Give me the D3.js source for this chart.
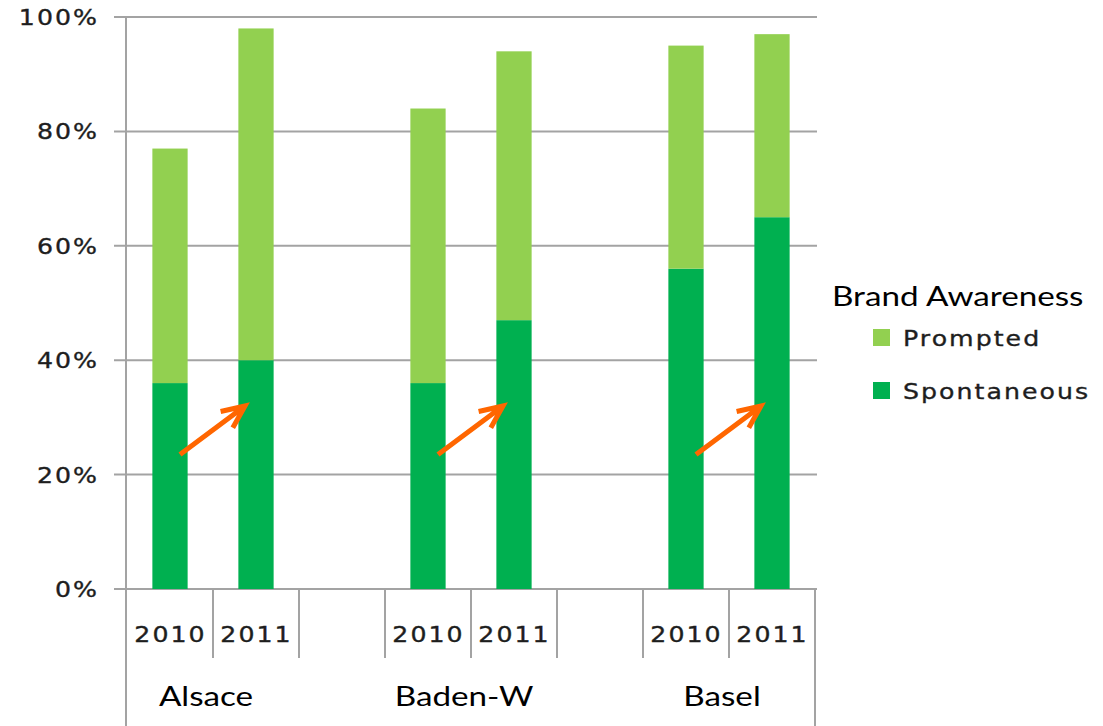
<!DOCTYPE html>
<html>
<head>
<meta charset="utf-8">
<script src="https://cdn.jsdelivr.net/npm/d3@7"></script>
<style>
  html, body { margin: 0; padding: 0; background: #fff; }
  svg { display: block; }
  .tick-label, .year-label, .legend-label {
    font-family: "DejaVu Sans", Verdana, sans-serif; font-size: 21px; letter-spacing: 1.7px;
    fill: #1e1e1e; stroke: #1e1e1e; stroke-width: 0.35px;
  }
  .region-label, .legend-title { font-family: Lato, "Open Sans", sans-serif; font-size: 27px; fill: #000; }
</style>
</head>
<body>
<svg id="chart" width="1103" height="726"></svg>
<script>
// Brand awareness by region and year (percent of respondents)
const regions = ["Alsace", "Baden-W", "Basel"];
const years = ["2010", "2011"];
const spontaneous = [36, 40, 36, 47, 56, 65];   // per region, per year
const prompted = [41, 58, 48, 47, 39, 32];       // stacked on top of spontaneous
const yTicks = [0, 20, 40, 60, 80, 100];
const seriesNames = ["Prompted", "Spontaneous"];
const seriesColors = ["#92D050", "#00B050"];
const legendTitle = "Brand Awareness";
// arrows: start / end height (percent) showing the change in spontaneous awareness
const arrowFrom = [23.5, 23.5, 23.5];
const arrowTo = [32, 32, 32];

const svg = d3.select("#chart");
const wide = 1.23;   // horizontal stretch for the titles
const wideS = 1.2;   // horizontal stretch for axis / legend labels

// one slot per bar, with an empty slot between regions
const slots = [];
regions.forEach((r, i) => {
  years.forEach(y => slots.push(r + "|" + y));
  if (i < regions.length - 1) slots.push(r + "|gap");
});

const plotLeft = 126, plotRight = 815, plotTop = 17, plotBase = 589;
const x = d3.scaleBand().domain(slots).range([plotLeft + 1, plotRight]).paddingInner(0).paddingOuter(0);
const y = d3.scaleLinear().domain([0, 100]).range([plotBase, plotTop]);
const bw = x.bandwidth();
const barW = bw * 0.41;

// gridlines
svg.append("g").selectAll("line").data(yTicks).join("line")
  .attr("x1", plotLeft - 12).attr("x2", plotRight + 2)
  .attr("y1", d => y(d)).attr("y2", d => y(d))
  .attr("stroke", "#a3a3a3").attr("stroke-width", 2);

// y axis labels
const yAxis = svg.append("g").attr("transform", `translate(${plotLeft},0)`)
  .call(d3.axisLeft(y).tickValues(yTicks).tickSize(0).tickPadding(0).tickFormat(d => d + "%"));
yAxis.select(".domain").remove();
yAxis.attr("font-family", null).attr("font-size", null);
yAxis.selectAll("text").attr("class", "tick-label")
  .attr("x", -27 / wideS).attr("dy", "0.36em")
  .attr("transform", `scale(${wideS},1)`);

// stacked bars
const rows = slots.filter(s => !s.endsWith("|gap")).map((s, i) => ({
  key: s, Spontaneous: spontaneous[i], Prompted: prompted[i]
}));
const stack = d3.stack().keys(["Spontaneous", "Prompted"]);
const layers = stack(rows);
svg.append("g").selectAll("g").data(layers).join("g")
  .attr("fill", d => seriesColors[seriesNames.indexOf(d.key)])
  .selectAll("rect").data(d => d).join("rect")
  .attr("x", d => x(d.data.key) + (bw - barW) / 2)
  .attr("width", barW)
  .attr("y", d => y(d[1]))
  .attr("height", d => y(d[0]) - y(d[1]));

// category axis frame
const frame = svg.append("g").attr("stroke", "#a3a3a3").attr("stroke-width", 2);
frame.append("line").attr("x1", plotLeft).attr("x2", plotLeft).attr("y1", plotTop).attr("y2", 726);
frame.append("line").attr("x1", plotRight).attr("x2", plotRight).attr("y1", plotBase).attr("y2", 726);
frame.selectAll("line.sep").data(slots.slice(1)).join("line").attr("class", "sep")
  .attr("x1", d => x(d)).attr("x2", d => x(d))
  .attr("y1", plotBase).attr("y2", plotBase + 69);

// year labels
svg.append("g").selectAll("text").data(rows).join("text")
  .attr("class", "year-label")
  .attr("transform", d => `translate(${x(d.key) + bw / 2 + 0.5},642) scale(${wideS},1)`)
  .attr("text-anchor", "middle")
  .text(d => d.key.split("|")[1]);

// region labels
svg.append("g").selectAll("text").data(regions).join("text")
  .attr("class", "region-label")
  .attr("transform", r => `translate(${x(r + "|" + years[0]) + bw - 7},706) scale(${wide},1)`)
  .attr("text-anchor", "middle")
  .text(r => r);

// arrows showing the rise in spontaneous awareness
const arrowColor = "#FF6600";
regions.forEach((r, i) => {
  const x0 = x(r + "|" + years[0]) + bw / 2 + 10;
  const y0 = y(arrowFrom[i]);
  const x1 = x(r + "|" + years[1]) + bw / 2 - 11;
  const y1 = y(arrowTo[i]);
  const ang = Math.atan2(y1 - y0, x1 - x0);
  const len = 25, spread = Math.PI / 7.5;
  const a1 = [x1 - len * Math.cos(ang - spread), y1 - len * Math.sin(ang - spread)];
  const a2 = [x1 - len * Math.cos(ang + spread), y1 - len * Math.sin(ang + spread)];
  const p = d3.path();
  p.moveTo(x0, y0); p.lineTo(x1, y1);
  p.moveTo(a1[0], a1[1]); p.lineTo(x1, y1); p.lineTo(a2[0], a2[1]);
  svg.append("path").attr("d", p.toString())
    .attr("fill", "none").attr("stroke", arrowColor)
    .attr("stroke-width", 5).attr("stroke-linecap", "butt").attr("stroke-linejoin", "miter");
});

// legend
const legend = svg.append("g");
legend.append("text").attr("class", "legend-title")
  .attr("transform", `translate(832,306) scale(${wide},1)`).text(legendTitle);
const li = legend.selectAll("g.item").data(seriesNames).join("g").attr("class", "item")
  .attr("transform", (d, i) => `translate(873,${329 + i * 53})`);
li.append("rect").attr("width", 17).attr("height", 17).attr("fill", (d, i) => seriesColors[i]);
li.append("text").attr("class", "legend-label")
  .attr("transform", `translate(30,17) scale(${wideS},1)`).text(d => d);
</script>
</body>
</html>
